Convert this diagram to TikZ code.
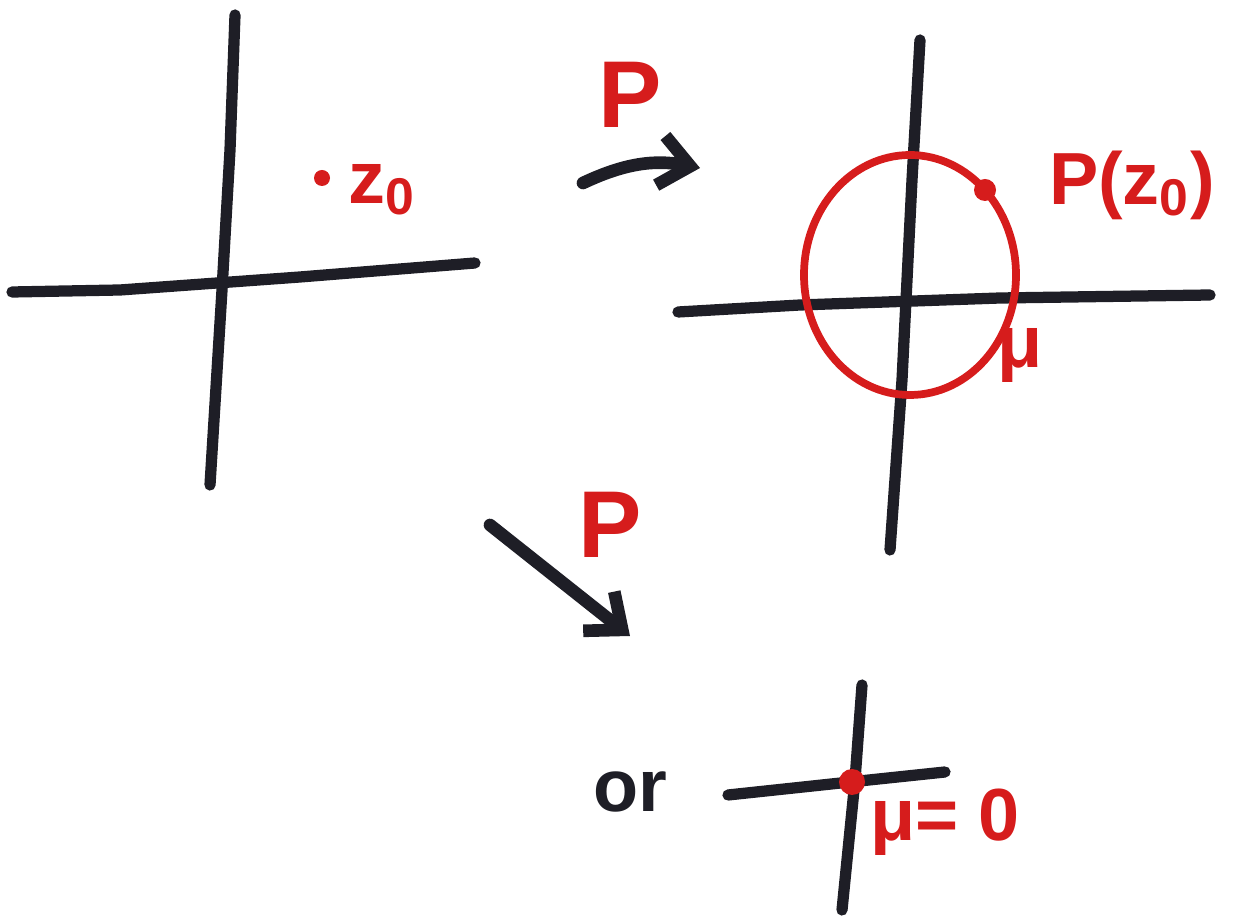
\documentclass[tikz,border=0pt]{standalone}
\usepackage{fontspec}
\setmainfont{Liberation Sans}
\usetikzlibrary{arrows.meta}
\definecolor{ink}{RGB}{30,30,38}
\definecolor{redink}{RGB}{214,28,28}
\newcommand{\bigfont}{\fontsize{27}{29}\selectfont\bfseries}
\newcommand{\midfont}{\fontsize{21}{23}\selectfont\bfseries}

\begin{document}
\begin{tikzpicture}[x=0.01cm,y=-0.01cm,line cap=round,
	axis/.style={ink,line width=3.2pt},
	map/.style={ink,line width=3.6pt,->,>={Straight Barb[length=3mm,width=5mm]}},
	lab/.style={redink,inner sep=1pt}]
	\useasboundingbox (0,0) rectangle (1245,916);
	% plane of z
	\draw[axis] (235,15) -- (230,150) -- (222,290) -- (210,485);
	\draw[axis] (12,292) -- (120,290) -- (300,277) -- (475,263);
	\fill[redink] (322,178) circle (8);
	\node[lab,font=\midfont] (z0) at (382,190) {z\textsubscript{0}};
	% first map
	\coordinate (m1) at (583,183);
	\coordinate (m2) at (700,168);
	\draw[map] (m1) to[bend left=18] (m2);
	\node[lab,font=\bigfont] (P1) at (630,95) {P};
	% plane of P
	\draw[axis] (920,40) -- (912,180) -- (902,380) -- (890,550);
	\draw[axis] (678,312) -- (800,305) -- (1000,298) -- (1210,295);
	\draw[redink,line width=2.2pt] (910,275) ellipse (106 and 120);
	\fill[redink] (985,190) circle (11);
	\node[lab,font=\midfont] (Pz0) at (1132,185) {P(z\textsubscript{0})};
	\node[lab,font=\midfont] (mu) at (1020,355) {μ};
	% second map
	\coordinate (m3) at (490,525);
	\coordinate (m4) at (630,636);
	\draw[map] (m3) -- (m4);
	\node[lab,font=\bigfont] (P2) at (610,525) {P};
	% degenerate case
	\node[ink,font=\midfont] (or) at (630,792) {or};
	\draw[axis] (862,685) -- (855,780) -- (842,910);
	\draw[axis] (728,795) -- (850,782) -- (945,772);
	\fill[redink] (852,782) circle (13);
	\node[lab,font=\midfont] (mu0) at (945,822) {μ= 0};
\end{tikzpicture}
\end{document}
